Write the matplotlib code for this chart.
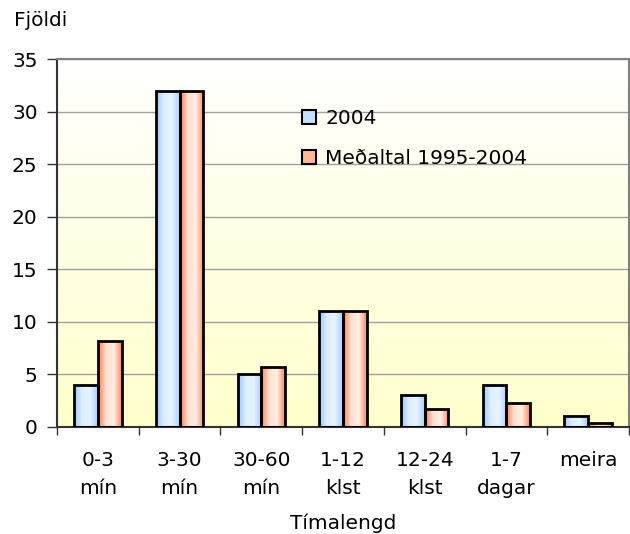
import numpy as np
import matplotlib
matplotlib.use('Agg')
import matplotlib.pyplot as plt
from matplotlib.colors import LinearSegmentedColormap
from matplotlib.patches import Patch

categories = ['0-3\nmín', '3-30\nmín', '30-60\nmín', '1-12\nklst',
              '12-24\nklst', '1-7\ndagar', 'meira']
values_2004 = [4, 32, 5, 11, 3, 4, 1]
values_mean = [8.2, 32, 5.7, 11, 1.7, 2.3, 0.4]
series_names = ['2004', 'Meðaltal 1995-2004']

FS = 14.5
plt.rcParams['font.family'] = ['DejaVu Sans']
plt.rcParams['font.size'] = FS

fig = plt.figure(figsize=(6.3, 5.34), dpi=100)
ax = fig.add_axes([0.0905, 0.2004, 0.9079, 0.6891])

# Background gradient: white at top, pale yellow at bottom.
bg_cmap = LinearSegmentedColormap.from_list('bg', ['#FFFFCC', '#FFFFFF'])
ax.imshow(np.linspace(0, 1, 256).reshape(-1, 1), cmap=bg_cmap, aspect='auto',
          extent=[-0.5, 6.5, 0, 35], origin='lower', zorder=0)

blue_cmap = LinearSegmentedColormap.from_list(
    'b', ['#9CC8FF', '#DDEEFF', '#E8F3FF', '#A8CFFF'])
red_cmap = LinearSegmentedColormap.from_list(
    'r', ['#FF7F50', '#FFE0D0', '#FFEEE4', '#FF8A60'])

x = np.arange(len(categories))
w = 0.29


def gradient_bars(xpos, vals, cmap, label):
    bars = ax.bar(xpos, vals, width=w, facecolor='none', edgecolor='black',
                  linewidth=2, zorder=3, label=label)
    grad = np.linspace(0, 1, 64).reshape(1, -1)
    for b in bars:
        x0, y0 = b.get_x(), b.get_y()
        im = ax.imshow(grad, cmap=cmap, aspect='auto', zorder=2,
                       extent=[x0, x0 + b.get_width(), y0, y0 + b.get_height()])
        im.set_clip_path(b)
    return bars


gradient_bars(x - w / 2, values_2004, blue_cmap, series_names[0])
gradient_bars(x + w / 2, values_mean, red_cmap, series_names[1])

ax.set_xlim(-0.5, 6.5)
ax.set_ylim(0, 35)
ax.set_yticks(range(0, 36, 5))
ax.yaxis.grid(True, color='#A0A0A0', linewidth=1)
ax.set_axisbelow(True)
for gl in ax.get_ygridlines():
    gl.set_zorder(1)

ax.set_xticks(np.arange(-0.5, 7, 1))
ax.set_xticklabels([])
ax.set_xticks(x, minor=True)
ax.set_xticklabels(categories, minor=True, fontsize=FS, linespacing=1.6)
ax.tick_params(axis='x', which='minor', length=0, pad=17.5)
ax.tick_params(axis='x', which='major', length=6, width=1, direction='out',
               color='#333333')
ax.tick_params(axis='y', length=7, width=1, direction='out', labelsize=FS,
               pad=7, color='#333333')

for side in ['top', 'right']:
    ax.spines[side].set_color('#808080')
    ax.spines[side].set_linewidth(1.5)
for side in ['left', 'bottom']:
    ax.spines[side].set_color('#333333')
    ax.spines[side].set_linewidth(1.5)

ax.set_xlabel('Tímalengd', fontsize=FS, labelpad=11)
fig.text(0.022, 0.962, 'Fjöldi', fontsize=FS, ha='left', va='center')

handles = [Patch(facecolor='#C5DFFF', edgecolor='black', linewidth=1.5),
           Patch(facecolor='#FFB898', edgecolor='black', linewidth=1.5)]
fig.legend(handles, series_names, loc='upper left',
           bbox_to_anchor=(302 / 630, 1 - 109 / 534),
           frameon=False, fontsize=FS, handlelength=0.7, handleheight=0.7,
           handletextpad=0.45, labelspacing=1.05, borderpad=0,
           borderaxespad=0)

fig.savefig('out.png', dpi=100)
